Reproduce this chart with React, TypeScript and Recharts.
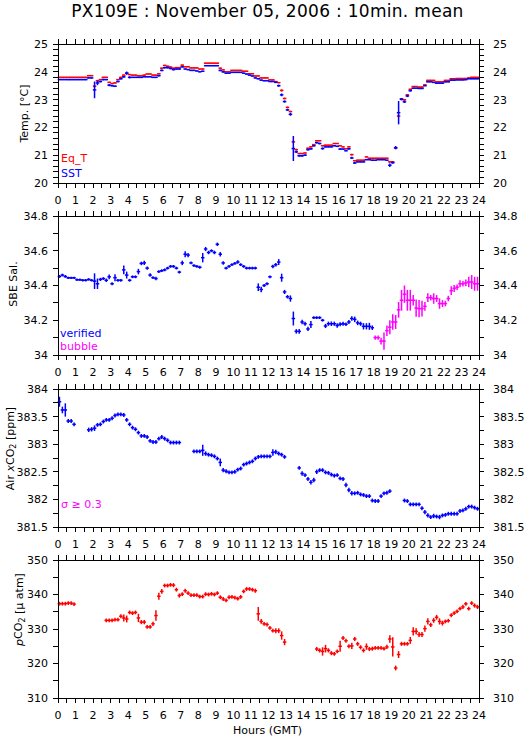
import React from 'react';
import { ScatterChart, Scatter, XAxis, YAxis, ErrorBar } from 'recharts';

// ---------------- data (10-minute means, 144 bins per day) ----------------
const TITLE = 'PX109E : November 05, 2006 : 10min. mean';
const X_LABEL = 'Hours (GMT)';
const BIN_HOURS = 1 / 6;
const HOUR_LABELS = [0, 1, 2, 3, 4, 5, 6, 7, 8, 9, 10, 11, 12, 13, 14, 15, 16, 17, 18, 19, 20, 21, 22, 23, 24];

const TEMP_LABELS = [20, 21, 22, 23, 24, 25];
const SAL_LABELS = [34, 34.2, 34.4, 34.6, 34.8];
const XCO2_LABELS = [381.5, 382, 382.5, 383, 383.5, 384];
const PCO2_LABELS = [310, 320, 330, 340, 350];

const EQT = [
  23.80, 23.80, 23.80, 23.80, 23.80, 23.80,
  23.80, 23.80, 23.80, 23.80, 23.86, 23.86,
  23.48, 23.68, 23.72, 23.80, 23.80, 23.62,
  23.58, 23.60, 23.72, 23.80, 23.88, 23.95,
  23.90, 23.88, 23.88, 23.86, 23.86, 23.88,
  23.92, 23.92, 23.88, 23.88, 23.93, 24.13,
  24.23, 24.20, 24.17, 24.13, 24.15, 24.15,
  24.24, 24.18, 24.18, 24.14, 24.14, 24.14,
  24.10, 24.10, 24.31, 24.31, 24.31, 24.31,
  24.31, 24.13, 24.07, 24.00, 24.00, 24.05,
  24.05, 24.05, 24.05, 24.02, 24.02, 23.93,
  23.93, 23.85, 23.85, 23.78, 23.78, 23.78,
  23.71, 23.71, 23.65, 23.61, 23.33, 23.04,
  22.72, 22.57, 21.48, 21.20, 21.06, 21.06,
  21.08, 21.25, 21.30, 21.38, 21.52, 21.52,
  21.34, 21.36, 21.36, 21.36, 21.42, 21.42,
  21.34, 21.30, 21.23, 21.30, 21.02, 20.80,
  20.82, 20.82, 20.82, 20.94, 20.89, 20.89,
  20.89, 20.89, 20.89, 20.89, 20.89, 20.76,
  20.76, 21.26, 22.41, 23.03, 22.99, 23.17,
  23.37, 23.47, 23.47, 23.45, 23.45, 23.53,
  23.69, 23.69, 23.69, 23.64, 23.64, 23.64,
  23.69, 23.69, 23.75, 23.75, 23.76, 23.76,
  23.76, 23.76, 23.78, 23.80, 23.80, 23.80,
];
const EQT_ERR = [
  .02, .02, .02, .02, .02, .02, .02, .02, .02, .02, .02, .02,
  .05, .03, .02, .02, .02, .02, .02, .02, .02, .02, .02, .03,
  .02, .02, .02, .02, .02, .02, .02, .02, .02, .02, .02, .02,
  .02, .02, .02, .02, .02, .02, .02, .02, .02, .02, .02, .02,
  .02, .02, .02, .02, .02, .02, .02, .02, .02, .02, .02, .02,
  .02, .02, .02, .02, .02, .02, .02, .02, .02, .02, .02, .02,
  .02, .02, .02, .02, .04, .03, .03, .03, .05, .03, .02, .02,
  .02, .02, .02, .02, .02, .02, .02, .02, .02, .02, .02, .02,
  .02, .02, .02, .02, .03, .02, .02, .02, .02, .02, .02, .02,
  .02, .02, .02, .02, .02, .03, .03, .03, .05, .03, .03, .03,
  .02, .02, .02, .02, .02, .02, .02, .02, .02, .02, .02, .02,
  .02, .02, .02, .02, .02, .02, .02, .02, .02, .02, .02, .02,
];
const SST = [
  23.72, 23.72, 23.72, 23.72, 23.72, 23.72,
  23.72, 23.72, 23.72, 23.72, 23.78, 23.78,
  23.35, 23.60, 23.65, 23.72, 23.72, 23.52,
  23.50, 23.48, 23.65, 23.75, 23.82, 23.95,
  23.80, 23.80, 23.80, 23.80, 23.80, 23.82,
  23.82, 23.82, 23.80, 23.80, 23.86, 24.05,
  24.15, 24.15, 24.12, 24.08, 24.10, 24.10,
  24.18, 24.10, 24.08, 24.05, 24.05, 24.03,
  24.00, 24.02, 24.22, 24.22, 24.22, 24.22,
  24.22, 24.05, 24.00, 23.95, 23.95, 23.98,
  23.98, 23.98, 23.98, 23.95, 23.92, 23.88,
  23.85, 23.78, 23.75, 23.70, 23.68, 23.68,
  23.65, 23.65, 23.62, 23.50, 23.17, 22.93,
  22.63, 22.47, 21.24, 21.12, 20.98, 20.98,
  21.00, 21.20, 21.23, 21.34, 21.45, 21.42,
  21.24, 21.30, 21.30, 21.30, 21.34, 21.32,
  21.22, 21.22, 21.16, 21.23, 20.90, 20.72,
  20.76, 20.76, 20.76, 20.84, 20.84, 20.82,
  20.82, 20.84, 20.84, 20.84, 20.82, 20.64,
  20.73, 21.27, 22.53, 23.01, 22.92, 23.13,
  23.32, 23.41, 23.41, 23.40, 23.40, 23.50,
  23.64, 23.64, 23.62, 23.59, 23.59, 23.59,
  23.64, 23.64, 23.70, 23.70, 23.71, 23.71,
  23.71, 23.72, 23.75, 23.75, 23.75, 23.75,
];
const SST_ERR = [
  .02, .02, .02, .02, .02, .02, .02, .02, .02, .02, .02, .02,
  .30, .08, .03, .03, .02, .04, .03, .03, .03, .03, .03, .06,
  .04, .02, .02, .02, .02, .02, .02, .02, .02, .02, .03, .03,
  .03, .03, .03, .03, .02, .02, .03, .02, .02, .02, .02, .02,
  .02, .02, .02, .02, .02, .02, .02, .03, .03, .02, .02, .02,
  .02, .02, .02, .02, .02, .02, .02, .02, .02, .02, .02, .02,
  .02, .02, .02, .04, .05, .04, .04, .05, .45, .04, .04, .04,
  .03, .03, .03, .03, .03, .03, .04, .02, .02, .02, .02, .02,
  .03, .02, .02, .03, .04, .03, .02, .02, .02, .02, .02, .02,
  .02, .02, .02, .02, .02, .06, .04, .06, .42, .04, .04, .04,
  .03, .02, .02, .02, .02, .02, .02, .02, .02, .02, .02, .02,
  .02, .02, .02, .02, .02, .02, .02, .02, .02, .02, .02, .02,
];

// salinity: verified 0h-18h, bubble-flagged 18h-24h
const SAL_VERIFIED_START = 0;
const SAL_VERIFIED = [
  34.452, 34.460, 34.452, 34.444, 34.444, 34.444,
  34.433, 34.433, 34.430, 34.430, 34.435, 34.430,
  34.425, 34.410, 34.435, 34.440, 34.430, 34.450,
  34.410, 34.445, 34.430, 34.430, 34.490, 34.460,
  34.430, 34.450, 34.450, 34.480, 34.527, 34.530,
  34.500, 34.460, 34.445, 34.440, 34.480, 34.485,
  34.490, 34.500, 34.510, 34.510, 34.500, 34.477,
  34.530, 34.580, 34.575, 34.530, 34.515, 34.510,
  34.505, 34.560, 34.610, 34.590, 34.600, 34.590,
  34.637, 34.580, 34.530, 34.500, 34.510, 34.520,
  34.527, 34.535, 34.520, 34.510, 34.500, 34.500,
  34.500, 34.500, 34.390, 34.377, 34.400, 34.410,
  34.450, 34.510, 34.520, 34.535, 34.445, 34.363,
  34.335, 34.325, 34.210, 34.136, 34.136, 34.190,
  34.180, 34.150, 34.175, 34.215, 34.215, 34.215,
  34.200, 34.167, 34.180, 34.180, 34.180, 34.170,
  34.177, 34.180, 34.177, 34.190, 34.210, 34.205,
  34.185, 34.180, 34.165, 34.165, 34.165, 34.157,
];
const SAL_VERIFIED_ERR = [
  .008, .008, .008, .007, .007, .007, .007, .007, .007, .007, .007, .007,
  .045, .030, .009, .008, .010, .014, .008, .020, .008, .008, .025, .020,
  .008, .008, .008, .016, .010, .012, .010, .010, .008, .010, .008, .008,
  .008, .008, .008, .008, .008, .008, .013, .017, .012, .008, .008, .008,
  .008, .027, .012, .010, .008, .010, .010, .013, .010, .008, .008, .008,
  .008, .010, .008, .008, .008, .008, .008, .008, .022, .016, .008, .008,
  .008, .010, .010, .017, .023, .012, .010, .018, .040, .013, .013, .013,
  .012, .012, .020, .008, .008, .008, .008, .012, .012, .013, .012, .013,
  .012, .012, .010, .012, .013, .016, .013, .012, .018, .018, .020, .013,
];
const SAL_BUBBLE_START = 108;
const SAL_BUBBLE = [
  34.100, 34.100, 34.080, 34.080, 34.140, 34.160,
  34.190, 34.190, 34.260, 34.315, 34.350, 34.315,
  34.315, 34.315, 34.270, 34.267, 34.267, 34.280,
  34.330, 34.330, 34.325, 34.325, 34.296, 34.296,
  34.296, 34.325, 34.370, 34.383, 34.390, 34.410,
  34.410, 34.415, 34.420, 34.420, 34.410, 34.410,
];
const SAL_BUBBLE_ERR = [
  .012, .012, .020, .050, .030, .040, .045, .040, .045, .060, .050, .060,
  .060, .030, .050, .050, .045, .025, .025, .016, .030, .020, .030, .020,
  .016, .016, .025, .020, .016, .020, .016, .020, .030, .040, .040, .040,
];

const XCO2 = [
  383.77, 383.62, 383.62, 383.42, 383.42, 383.36,
  null, null, null, null, 383.26, 383.27,
  383.29, 383.35, 383.36, 383.41, 383.44, 383.44,
  383.47, 383.52, 383.54, 383.54, 383.53, 383.44,
  383.36, 383.30, 383.27, 383.21, 383.15, 383.15,
  383.13, 383.06, 383.04, 383.04, 383.10, 383.13,
  383.10, 383.07, 383.03, 383.03, 383.03, 383.03,
  null, null, null, null, 382.87, 382.87,
  382.87, 382.89, 382.83, 382.81, 382.80, 382.78,
  382.74, 382.67, 382.53, 382.51, 382.49, 382.49,
  382.50, 382.54, 382.56, 382.63, 382.65, 382.67,
  382.69, 382.74, 382.77, 382.78, 382.78, 382.78,
  382.78, 382.85, 382.86, 382.83, 382.81, 382.77,
  null, null, null, null, 382.57, 382.47,
  382.44, 382.37, 382.31, 382.35, 382.50, 382.53,
  382.53, 382.49, 382.48, 382.45, 382.43, 382.44,
  382.38, 382.37, 382.26, 382.17, 382.11, 382.11,
  382.12, 382.09, 382.08, 382.06, 382.06, 381.98,
  381.97, 381.97, 382.06, 382.11, 382.12, 382.15,
  null, null, null, null, 381.98, 381.97,
  381.91, 381.91, 381.91, 381.91, 381.84, 381.77,
  381.71, 381.68, 381.70, 381.69, 381.68, 381.71,
  381.72, 381.74, 381.74, 381.74, 381.74, 381.79,
  381.80, 381.83, 381.87, 381.87, 381.85, 381.83,
];
const XCO2_ERR = [
  .09, .06, .12, .035, .035, .035, 0, 0, 0, 0, .04, .04,
  .05, .035, .035, .035, .035, .035, .035, .035, .035, .035, .035, .035,
  .035, .035, .035, .035, .035, .035, .035, .035, .035, .035, .035, .035,
  .035, .035, .035, .035, .035, .035, 0, 0, 0, 0, .035, .035,
  .035, .10, .04, .035, .035, .035, .035, .07, .04, .035, .035, .035,
  .035, .035, .035, .035, .035, .035, .035, .035, .035, .035, .035, .035,
  .035, .06, .04, .035, .035, .035, 0, 0, 0, 0, .035, .04,
  .035, .035, .04, .04, .04, .035, .035, .035, .035, .035, .035, .035,
  .035, .035, .04, .04, .04, .035, .035, .035, .035, .035, .035, .035,
  .035, .035, .035, .035, .035, .035, 0, 0, 0, 0, .035, .035,
  .035, .035, .035, .035, .035, .04, .04, .035, .04, .035, .04, .035,
  .035, .035, .035, .035, .035, .035, .035, .035, .035, .035, .035, .035,
];

const PCO2 = [
  337.34, 337.34, 337.34, 337.50, 337.50, 337.20,
  null, null, null, null, null, null,
  null, null, null, null, 332.5, 332.5,
  332.5, 332.7, 332.7, 333.7, 333.2, 332.9,
  334.8, 334.6, 334.8, 333.2, 332.0, 332.0,
  330.6, 330.6, 331.5, 333.9, 339.5, 340.9,
  342.6, 342.6, 342.8, 342.7, 341.4, 339.7,
  340.1, 341.1, 340.4, 339.8, 339.8, 339.8,
  339.4, 339.4, 340.1, 340.0, 340.2, 340.0,
  340.4, 339.2, 338.7, 338.3, 339.2, 339.3,
  339.1, 338.8, 339.3, 340.9, 341.6, 341.6,
  341.4, 341.1, 334.4, 332.2, 331.5, 331.3,
  330.3, 329.5, 329.5, 329.5, 328.1, 326.2,
  null, null, null, null, null, null,
  null, null, null, null, 324.2, 323.8,
  323.5, 324.3, 323.8, 323.0, 322.8, 323.5,
  325.0, 327.4, 326.6, 325.0, 325.1, 327.1,
  325.7, 324.7, 323.8, 324.9, 324.2, 324.3,
  324.5, 324.5, 324.5, 324.3, 324.8, 327.1,
  324.8, 318.7, 322.6, 325.7, 325.7, 325.7,
  326.7, 329.3, 329.3, 328.4, 328.4, 330.1,
  332.2, 331.2, 332.5, 333.4, 332.2, 331.7,
  332.2, 332.4, 334.0, 334.6, 335.1, 335.9,
  336.4, 337.3, 335.9, 337.5, 336.8, 336.4,
];
const PCO2_ERR = [
  .55, .55, .55, .55, .55, .55, 0, 0, 0, 0, 0, 0,
  0, 0, 0, 0, .55, .55, .55, .55, .55, .6, 1.0, 1.0,
  .55, .55, .55, 1.2, .6, .6, .55, .55, .6, 1.5, 1.0, .7,
  .55, .55, .55, .6, .55, .6, .55, .6, .55, .55, .55, .55,
  .55, .55, .55, .55, .55, .55, .55, .55, .55, .55, .55, .55,
  .55, .55, .55, .55, .55, .55, .55, .6, 2.0, .7, .55, .55,
  .55, .55, .7, .7, 1.2, .9, 0, 0, 0, 0, 0, 0,
  0, 0, 0, 0, .6, .6, 1.2, 1.1, .6, .6, .55, .55,
  1.6, .6, .6, .6, .9, .6, .6, .6, .6, .9, .6, .6,
  .55, .55, .55, .55, .6, 1.1, 2.8, .7, 1.0, .6, .55, .55,
  1.0, 1.2, .9, .7, .7, .9, .9, .6, .7, .7, .9, .7,
  .55, .55, .6, .55, .55, .55, .6, .55, .55, .55, .6, .6,
];

// ---------------- helpers ----------------
type Pt = { t: number; v: number; ex: number; ey: number };

// horizontal arm of each cross spans the 10-minute averaging bin (slightly wider, as drawn)
const CROSS_HALF_WIDTH = BIN_HOURS * 0.6;

function toPoints(values: (number | null)[], errs: number[], start: number): Pt[] {
  const out: Pt[] = [];
  values.forEach((v, k) => {
    if (v == null) return;
    const i = start + k;
    out.push({ t: (i + 0.5) * BIN_HOURS, v, ex: CROSS_HALF_WIDTH, ey: errs[k] });
  });
  return out;
}

function makeTicks(min: number, max: number, step: number): number[] {
  const n = Math.round((max - min) / step);
  const arr: number[] = [];
  for (let k = 0; k <= n; k++) arr.push(+(min + k * step).toFixed(4));
  return arr;
}

function labelFormatter(labels: number[]) {
  return (v: number) => {
    const hit = labels.find((l) => Math.abs(l - v) < 1e-6);
    return hit === undefined ? '' : String(hit);
  };
}

const X_TICKS = makeTicks(0, 24, 0.5);
const fmtHour = labelFormatter(HOUR_LABELS);

const FONT = 'DejaVu Sans';
const W = 529;
const PLOT_LEFT = 58;
const PLOT_RIGHT = 479;
const TOP_PAD = 20;
const X_AXIS_H = 30;

const emptyShape = () => <g />;

type Series = { data: Pt[]; color: string };

function Panel(props: {
  plotTop: number;
  plotHeight: number;
  domain: [number, number];
  step: number;
  labels: number[];
  series: Series[];
  sw: number;
}) {
  const { plotTop, plotHeight, domain, step, labels, series, sw } = props;
  const H = TOP_PAD + plotHeight + X_AXIS_H;
  const yTicks = makeTicks(domain[0], domain[1], step);
  const fy = labelFormatter(labels);
  const tickStyle = { fontSize: 11, fill: '#000', fontFamily: FONT };
  const line = { stroke: '#000', strokeWidth: 1 };
  return (
    <div style={{ position: 'absolute', left: 0, top: plotTop - TOP_PAD, width: W, height: H }}>
      <ScatterChart width={W} height={H} margin={{ top: 0, right: 0, bottom: 0, left: 0 }}>
        <XAxis
          xAxisId="b"
          type="number"
          dataKey="t"
          domain={[0, 24]}
          allowDataOverflow
          ticks={X_TICKS}
          interval={0}
          tickFormatter={fmtHour}
          orientation="bottom"
          height={X_AXIS_H}
          tickSize={5}
          tickMargin={8}
          tick={tickStyle}
          axisLine={line}
          tickLine={line}
        />
        <XAxis
          xAxisId="t"
          type="number"
          dataKey="t"
          domain={[0, 24]}
          allowDataOverflow
          ticks={X_TICKS}
          interval={0}
          tickFormatter={() => ''}
          orientation="top"
          height={TOP_PAD}
          tickSize={5}
          tick={tickStyle}
          axisLine={line}
          tickLine={line}
        />
        <YAxis
          yAxisId="l"
          type="number"
          dataKey="v"
          domain={domain}
          allowDataOverflow
          ticks={yTicks}
          interval={0}
          tickFormatter={fy}
          orientation="left"
          width={PLOT_LEFT}
          tickSize={5}
          tickMargin={5}
          tick={tickStyle}
          axisLine={line}
          tickLine={line}
        />
        <YAxis
          yAxisId="r"
          type="number"
          dataKey="v"
          domain={domain}
          allowDataOverflow
          ticks={yTicks}
          interval={0}
          tickFormatter={fy}
          orientation="right"
          width={W - PLOT_RIGHT}
          tickSize={5}
          tickMargin={9}
          tick={tickStyle}
          axisLine={line}
          tickLine={line}
        />
        {series.map((s, k) => (
          <Scatter
            key={k}
            xAxisId="b"
            yAxisId="l"
            data={s.data}
            dataKey="v"
            shape={emptyShape}
            isAnimationActive={false}
            legendType="none"
          >
            <ErrorBar dataKey="ex" direction="x" width={0} stroke={s.color} strokeWidth={sw} isAnimationActive={false} />
            <ErrorBar dataKey="ey" direction="y" width={0} stroke={s.color} strokeWidth={sw} isAnimationActive={false} />
          </Scatter>
        ))}
      </ScatterChart>
    </div>
  );
}

const RED = '#ff0000';
const BLUE = '#0000ff';
const MAGENTA = '#ff00ff';

export default function App() {
  const txt = { fontFamily: FONT, fontSize: 11 } as const;
  return (
    <div style={{ position: 'absolute', left: 0, top: 0, width: W, height: 739, background: '#fff', overflow: 'hidden' }}>
      <style>{`.recharts-cartesian-axis line { shape-rendering: crispEdges; }`}</style>
      <Panel
        plotTop={44}
        plotHeight={139}
        domain={[20, 25]}
        step={0.2}
        labels={TEMP_LABELS}
        sw={1.5}
        series={[
          { data: toPoints(EQT, EQT_ERR, 0), color: RED },
          { data: toPoints(SST, SST_ERR, 0), color: BLUE },
        ]}
      />
      <Panel
        plotTop={216}
        plotHeight={139}
        domain={[34, 34.8]}
        step={0.1}
        labels={SAL_LABELS}
        sw={1.5}
        series={[
          { data: toPoints(SAL_VERIFIED, SAL_VERIFIED_ERR, SAL_VERIFIED_START), color: BLUE },
          { data: toPoints(SAL_BUBBLE, SAL_BUBBLE_ERR, SAL_BUBBLE_START), color: MAGENTA },
        ]}
      />
      <Panel
        plotTop={389}
        plotHeight={138}
        domain={[381.5, 384]}
        step={0.25}
        labels={XCO2_LABELS}
        sw={1.5}
        series={[{ data: toPoints(XCO2, XCO2_ERR, 0), color: BLUE }]}
      />
      <Panel
        plotTop={560}
        plotHeight={138}
        domain={[310, 350]}
        step={5}
        labels={PCO2_LABELS}
        sw={1.5}
        series={[{ data: toPoints(PCO2, PCO2_ERR, 0), color: RED }]}
      />
      <svg
        width={W}
        height={739}
        style={{ position: 'absolute', left: 0, top: 0, pointerEvents: 'none' }}
      >
        <text x={267.5} y={17} textAnchor="middle" fontFamily={FONT} fontSize={17} letterSpacing={0.3} fill="#000">
          {TITLE}
        </text>
        <text transform="translate(24,113.5) rotate(-90)" textAnchor="middle" dominantBaseline="central" {...txt} fill="#000">
          Temp. [°C]
        </text>
        <text transform="translate(13,284) rotate(-90)" textAnchor="middle" dominantBaseline="central" {...txt} fill="#000">
          SBE Sal.
        </text>
        <text transform="translate(10,448.5) rotate(-90)" textAnchor="middle" dominantBaseline="central" {...txt} fill="#000">
          Air <tspan fontStyle="italic">x</tspan>CO<tspan fontSize={8} dy={3}>2</tspan>
          <tspan dy={-3}> [ppm]</tspan>
        </text>
        <text transform="translate(18.5,609.5) rotate(-90)" textAnchor="middle" dominantBaseline="central" {...txt} fill="#000">
          <tspan fontStyle="italic">p</tspan>CO<tspan fontSize={8} dy={3}>2</tspan>
          <tspan dy={-3}> [μ atm]</tspan>
        </text>
        <text x={267.5} y={734} textAnchor="middle" {...txt} fill="#000">
          {X_LABEL}
        </text>
        <text x={61} y={162.3} {...txt} fill={RED}>Eq_T</text>
        <text x={61} y={176.7} {...txt} fill={BLUE}>SST</text>
        <text x={60} y={336.7} {...txt} fill={BLUE}>verified</text>
        <text x={60} y={350} {...txt} fill={MAGENTA}>bubble</text>
        <text x={61} y={508.3} {...txt} fill={MAGENTA}>σ ≥ 0.3</text>
      </svg>
    </div>
  );
}
